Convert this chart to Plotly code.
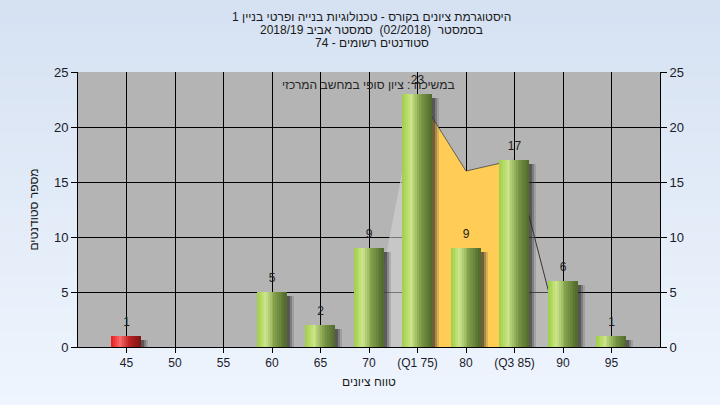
import plotly.graph_objects as go

# ---------------- data ----------------
categories = ["45", "50", "55", "60", "65", "70", "(Q1 75)", "80", "(Q3 85)", "90", "95"]
counts = [1, 0, 0, 5, 2, 9, 23, 9, 17, 6, 1]
failing = [True, False, False, False, False, False, False, False, False, False, False]
curve_left = [None, None, None, None, None, 0, 23, None, None, None, None]
curve_mid = [None, None, None, None, None, None, 23, 16, 17, None, None]
curve_right = [None, None, None, None, None, None, None, None, 17, 0, None]

title_lines = [
    "היסטוגרמת ציונים בקורס - טכנולוגיות בנייה ופרטי בניין 1",
    "בסמסטר  (02/2018)  סמסטר אביב 2018/19",
    "סטודנטים רשומים - 74",
]
legend_text = "במשיכה : ציון סופי במחשב המרכזי"
x_title = "טווח ציונים"
y_title = "מספר סטודנטים"

FONT = "Liberation Sans, DejaVu Sans, Arial, sans-serif"
xs = list(range(len(categories)))


def lerp(stops, t):
    for (p0, c0), (p1, c1) in zip(stops, stops[1:]):
        if p0 <= t <= p1:
            f = (t - p0) / (p1 - p0) if p1 > p0 else 0
            return "rgb(%d,%d,%d)" % tuple(round(a + (b - a) * f) for a, b in zip(c0, c1))
    return "rgb(%d,%d,%d)" % stops[-1][1]


green_stops = [(0.0, (160, 205, 70)), (0.3, (205, 230, 140)), (0.6, (130, 160, 75)), (1.0, (80, 105, 45))]
red_stops = [(0.0, (235, 25, 25)), (0.3, (250, 110, 110)), (0.6, (190, 35, 35)), (1.0, (125, 20, 20))]

fig = go.Figure()

# area curve (main subplot, behind the bars of the overlay subplot)
fig.add_trace(go.Scatter(x=xs, y=curve_left, mode="lines", fill="tozeroy",
                         fillcolor="rgba(215,215,215,0.55)", line=dict(color="rgba(200,200,200,0.8)", width=1),
                         hoverinfo="skip", showlegend=False))
fig.add_trace(go.Scatter(x=xs, y=curve_mid, mode="lines", fill="tozeroy",
                         fillcolor="rgb(255,204,85)", line=dict(color="rgba(70,70,70,0.8)", width=1),
                         hoverinfo="skip", showlegend=False))
fig.add_trace(go.Scatter(x=xs, y=curve_right, mode="lines", fill="tozeroy",
                         fillcolor="rgba(195,195,195,0.35)", line=dict(color="rgb(55,55,55)", width=1),
                         hoverinfo="skip", showlegend=False))

W = 0.6
# shadows
shadow_vals = [max(v - 0.35, 0) if v > 0 else 0 for v in counts]
for off, col in [(0.15, "rgba(70,70,70,0.2)"), (0.11, "rgba(50,50,50,0.3)"), (0.07, "rgba(30,30,30,0.4)")]:
    fig.add_trace(go.Bar(x=xs, y=shadow_vals, width=W, offset=-W / 2 + off, yaxis="y2",
                         marker=dict(color=col, line=dict(width=0)), hoverinfo="skip", showlegend=False))

# cylindrical bars built from slices
N = 16
for k in range(N):
    t = (k + 0.5) / N
    cols = [lerp(red_stops if f else green_stops, t) for f in failing]
    fig.add_trace(go.Bar(x=xs, y=counts, width=W / N + 0.002, offset=-W / 2 + k * W / N, yaxis="y2",
                         marker=dict(color=cols, line=dict(width=0)), hoverinfo="skip", showlegend=False))

# value labels
lbl_x = [x for x, v in zip(xs, counts) if v > 0]
lbl_y = [v for v in counts if v > 0]
fig.add_trace(go.Scatter(x=lbl_x, y=lbl_y, mode="markers+text", text=[str(v) for v in lbl_y], yaxis="y2",
                         marker=dict(size=10, color="rgba(0,0,0,0)"),
                         textposition="top center", textfont=dict(family=FONT, size=12, color="#1e1e1e"),
                         hoverinfo="skip", showlegend=False))

# background gradient
shapes = []
nb = 40
for i in range(nb):
    t = i / (nb - 1)
    c0, c1 = (213, 225, 242), (240, 246, 254)
    col = "rgb(%d,%d,%d)" % tuple(round(a + (b - a) * t) for a, b in zip(c0, c1))
    shapes.append(dict(type="rect", xref="paper", yref="paper", x0=-0.2, x1=1.2,
                       y1=1.3 - i * 1.6 / nb, y0=1.3 - (i + 1) * 1.6 / nb - 0.01,
                       fillcolor=col, line=dict(width=0), layer="below"))
shapes.append(dict(type="rect", xref="x domain", yref="y domain", x0=0, x1=1, y0=0, y1=1,
                   fillcolor="rgb(180,180,180)", line=dict(width=0), layer="below"))

annotations = []
for i, line in enumerate(title_lines):
    annotations.append(dict(text=line, xref="paper", yref="paper", x=0.505, y=1 + (55 - i * 13) / 275,
                            showarrow=False, xanchor="center", yanchor="middle",
                            font=dict(family=FONT, size=12, color="#1a1a1a")))
annotations.append(dict(text=legend_text, xref="paper", yref="paper", x=(368 - 78) / 582, y=(347 - 85) / 275,
                        showarrow=False, xanchor="center", yanchor="middle",
                        font=dict(family=FONT, size=12, color="#262626")))

axis_common = dict(showline=True, linecolor="black", linewidth=1, ticks="outside", tickcolor="black",
                   ticklen=6, tickfont=dict(family=FONT, size=13, color="#1a1a2a"))

fig.update_layout(
    width=720, height=405,
    margin=dict(l=78, r=60, t=72, b=58),
    paper_bgcolor="rgb(238,244,252)",
    plot_bgcolor="rgba(0,0,0,0)",
    barmode="overlay",
    bargap=0,
    showlegend=False,
    shapes=shapes,
    annotations=annotations,
    xaxis=dict(range=[-1, 11], tickvals=xs, ticktext=categories, showgrid=True, gridcolor="black",
               gridwidth=1, zeroline=False, showline=True, linecolor="black", ticks="outside",
               tickcolor="black", ticklen=5, tickfont=dict(family=FONT, size=12, color="#1a1a2a"),
               title=dict(text=x_title, font=dict(family=FONT, size=12, color="#1a1a1a"), standoff=8)),
    yaxis=dict(range=[0, 25], dtick=5, showgrid=True, gridcolor="black", gridwidth=1, zeroline=False,
               title=dict(text=y_title, font=dict(family=FONT, size=12, color="#1a1a1a"), standoff=12),
               **axis_common),
    yaxis2=dict(range=[0, 25], dtick=5, overlaying="y", side="right", showgrid=False, zeroline=False,
                **axis_common),
)

fig.write_html("out.html", config={"displayModeBar": False},
               post_script="document.body.style.margin='0';")
